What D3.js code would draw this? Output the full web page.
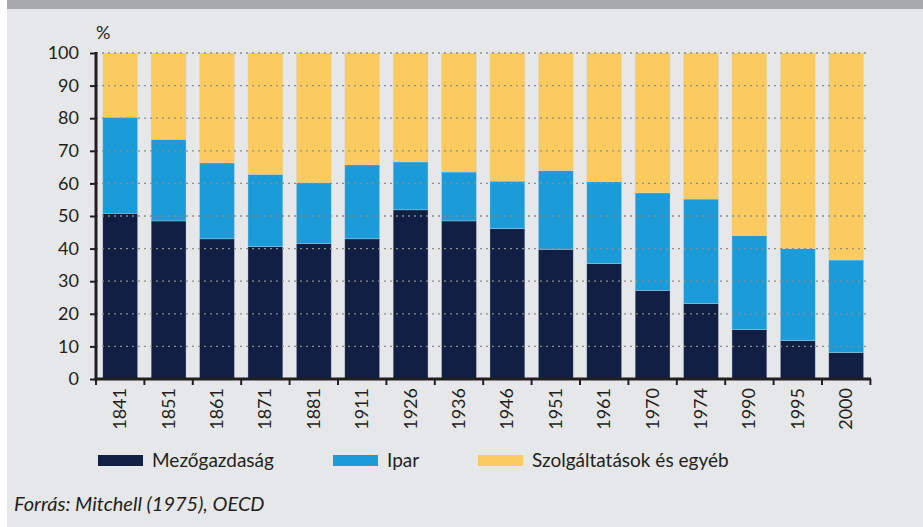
<!DOCTYPE html>
<html><head><meta charset="utf-8">
<script src="https://cdn.jsdelivr.net/npm/d3@7"></script>
<style>
html,body{margin:0;padding:0;background:#fff;}
svg{display:block;font-family:Lato,"Open Sans",sans-serif;}
</style></head>
<body>
<svg id="c" width="923" height="527"></svg>
<script>
const years = ["1841","1851","1861","1871","1881","1911","1926","1936","1946","1951","1961","1970","1974","1990","1995","2000"];
const agriculture = [50.8,48.5,43.0,40.6,41.6,43.0,51.9,48.5,46.1,39.8,35.4,27.2,23.1,15.2,11.8,8.1];
const industry = [29.5,25.0,23.3,22.2,18.6,22.7,14.7,15.0,14.6,24.1,25.1,29.9,32.1,28.8,28.2,28.4];
const services = years.map((y,i)=> +(100 - agriculture[i] - industry[i]).toFixed(1));
const seriesNames = ["Mezőgazdaság","Ipar","Szolgáltatások és egyéb"];
const yTicks = [0,10,20,30,40,50,60,70,80,90,100];
const colors = ["#111f45","#1b9cd8","#fccb5f"];

const svg = d3.select("#c");
svg.append("rect").attr("x",7).attr("y",0).attr("width",916).attr("height",527).attr("fill","#e6e7e8");
svg.append("rect").attr("x",7).attr("y",0).attr("width",916).attr("height",9).attr("fill","#a7a8ab");

const x0 = 96, x1 = 870.4, yTop = 53, yBot = 379;
const pInner = 0.28;
const x = d3.scaleBand().domain(years).range([x0,x1]).paddingInner(pInner).paddingOuter(pInner/2);
const y = d3.scaleLinear().domain([0,100]).range([yBot,yTop]);

const table = years.map((yr,i)=>({year:yr, a:agriculture[i], b:industry[i], c:services[i]}));
const stack = d3.stack().keys(["a","b","c"])(table);

const g = svg.append("g");
stack.forEach((layer,li)=>{
  g.selectAll(null).data(layer).enter().append("rect")
    .attr("x",d=>x(d.data.year))
    .attr("width",x.bandwidth())
    .attr("y",d=>y(d[1]))
    .attr("height",d=>y(d[0])-y(d[1]))
    .attr("fill",colors[li])
    .attr("stroke","#c9d6e3").attr("stroke-width",0.6).attr("stroke-opacity",0.6);
});

svg.append("g").selectAll("line").data(yTicks.filter(t=>t>0)).enter().append("line")
  .attr("x1",x0).attr("x2",868).attr("y1",d=>y(d)).attr("y2",d=>y(d))
  .attr("stroke","#8c8c8c").attr("stroke-width",1.3).attr("stroke-dasharray","2,4");

const yAxis = d3.axisLeft(y).tickValues(yTicks).tickSize(6).tickPadding(11);
const ya = svg.append("g").attr("transform",`translate(${x0},0)`).call(yAxis);
ya.select(".domain").remove();
ya.selectAll(".tick line").attr("stroke","#231f20").attr("stroke-width",2);
ya.selectAll(".tick text").attr("font-size",18).attr("fill","#231f20").attr("font-family","Lato");
svg.append("line").attr("x1",x0).attr("x2",x0).attr("y1",yTop-1).attr("y2",yBot+1.5)
  .attr("stroke","#231f20").attr("stroke-width",3);

const step = x.step();
const boundaries = d3.range(years.length+1).map(k=>x0 + k*step);
svg.append("line").attr("x1",x0-1.5).attr("x2",871).attr("y1",yBot).attr("y2",yBot)
  .attr("stroke","#231f20").attr("stroke-width",3);
svg.append("g").selectAll("line").data(boundaries).enter().append("line")
  .attr("x1",d=>d).attr("x2",d=>d).attr("y1",yBot).attr("y2",yBot+6)
  .attr("stroke","#231f20").attr("stroke-width",2);
svg.append("g").selectAll("text").data(years).enter().append("text")
  .attr("transform",d=>`translate(${x(d)+x.bandwidth()/2+6},388) rotate(-90)`)
  .attr("text-anchor","end")
  .attr("font-size",18).attr("fill","#231f20")
  .text(d=>d);

svg.append("text").attr("x",96).attr("y",39).attr("font-size",18).attr("fill","#231f20").text("%");

const legX = [98,333,478];
seriesNames.forEach((n,i)=>{
  svg.append("rect").attr("x",legX[i]).attr("y",455).attr("width",45).attr("height",11).attr("fill",colors[i]);
  svg.append("text").attr("x",legX[i]+54).attr("y",467).attr("font-size",19).attr("fill","#231f20").text(n);
});

svg.append("text").attr("x",14).attr("y",511).attr("font-size",20).attr("font-style","italic")
  .attr("fill","#231f20").text("Forrás: Mitchell (1975), OECD");
</script>
</body></html>
